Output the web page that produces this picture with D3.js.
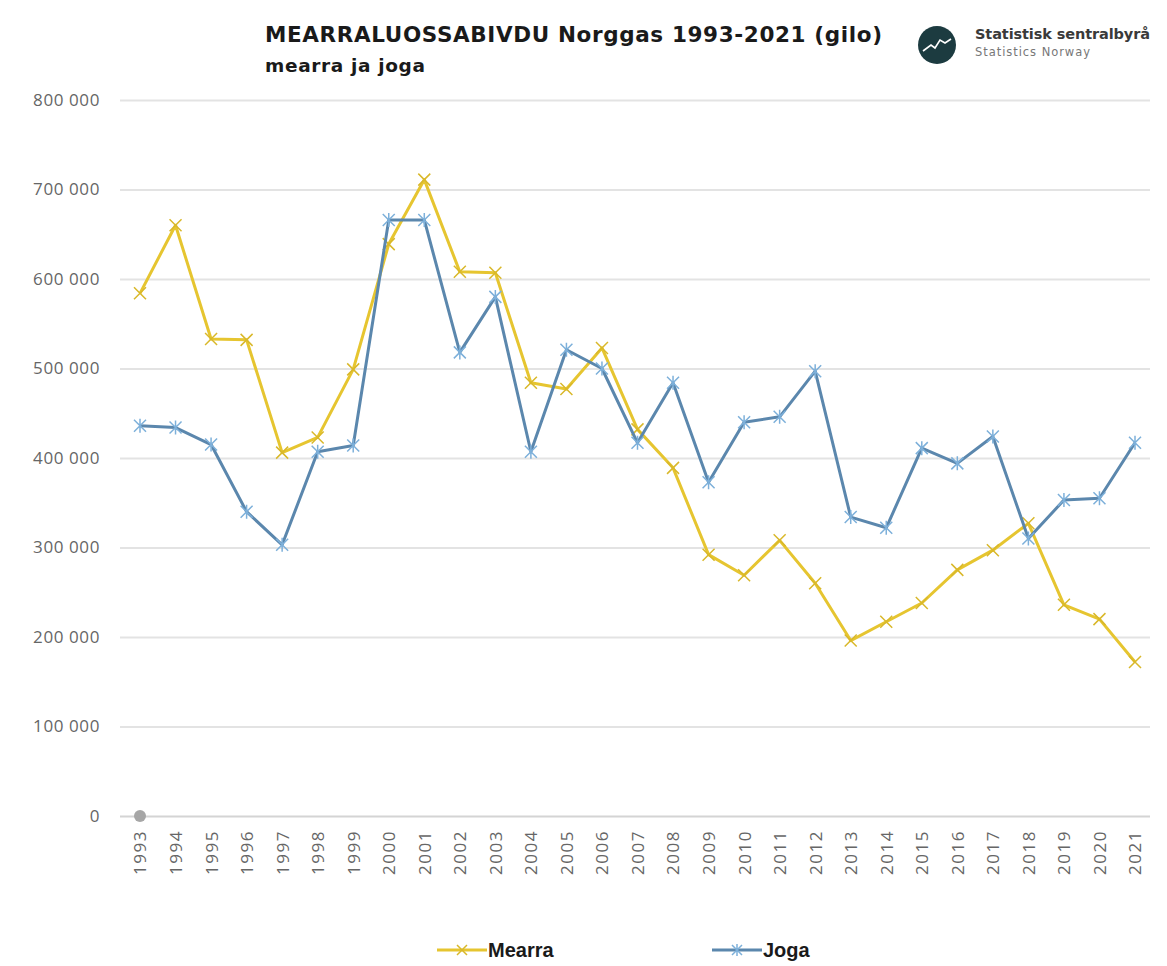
<!DOCTYPE html>
<html>
<head>
<meta charset="utf-8">
<script src="https://cdn.jsdelivr.net/npm/d3@7"></script>
<style>
  body { margin: 0; background: #fff; }
  svg { display: block; }
</style>
</head>
<body>
<script>
// data
const years = ["1993","1994","1995","1996","1997","1998","1999","2000","2001","2002",
  "2003","2004","2005","2006","2007","2008","2009","2010","2011","2012",
  "2013","2014","2015","2016","2017","2018","2019","2020","2021"];
const mearra = [584000, 660000, 533000, 532000, 406000, 423000, 499000, 639000, 711000, 608000,
  607000, 484000, 477000, 523000, 432000, 389000, 292000, 269000, 308000, 260000,
  196000, 217000, 238000, 275000, 297000, 327000, 236000, 220000, 172000];
const joga = [436000, 434000, 415000, 340000, 303000, 407000, 414000, 666000, 666000, 518000,
  580000, 407000, 521000, 500000, 417000, 484000, 373000, 440000, 446000, 497000,
  334000, 322000, 411000, 394000, 424000, 310000, 353000, 355000, 417000];
const yTicks = [0, 100000, 200000, 300000, 400000, 500000, 600000, 700000, 800000];

const W = 1167, H = 966;
const yellow = "#e6c530", blue = "#5b87ad", blueMark = "#7db0da";

const svg = d3.select("body").append("svg")
  .attr("width", W).attr("height", H);

let x = d3.scalePoint().domain(years).range([140, 1135]);
let y = d3.scaleLinear().domain([0, 800000]).range([816, 100]);

const fmt = d3.formatLocale({decimal: ",", thousands: " ", grouping: [3], currency: ["", ""]}).format(",d");

// gridlines + y labels
const yAxis = svg.append("g")
  .attr("transform", "translate(120,0)")
  .call(d3.axisLeft(y).tickValues(yTicks).tickFormat(fmt).tickSize(-1030).tickPadding(20));
yAxis.select(".domain").remove();
yAxis.selectAll(".tick line")
  .attr("stroke", d => d === 0 ? "#d4d4d4" : "#e3e3e3")
  .attr("stroke-width", 2);
yAxis.selectAll(".tick text")
  .attr("fill", "#666")
  .style("font-family", "'Open Sans', sans-serif")
  .style("font-size", "17px")
  .style("letter-spacing", "0.6px");

// x labels, rotated
const xAxis = svg.append("g")
  .attr("transform", "translate(0,816)")
  .call(d3.axisBottom(x).tickSize(0).tickPadding(0));
xAxis.select(".domain").remove();
xAxis.selectAll(".tick text")
  .attr("fill", "#666")
  .style("font-family", "'Open Sans', sans-serif")
  .style("font-size", "17px")
  .style("letter-spacing", "1.5px")
  .attr("text-anchor", "end")
  .attr("transform", "translate(0,14) rotate(-90)")
  .attr("dy", "0.35em")
  .attr("y", 0).attr("x", 0);

// gray dot at origin
svg.append("circle")
  .attr("cx", x("1993")).attr("cy", y(0)).attr("r", 6)
  .attr("fill", "#a6a6a6");

const line = d3.line()
  .x((d, i) => x(years[i]))
  .y(d => y(d));

function xMark(s, star) {
  return `M${-s},${-s}L${s},${s}M${-s},${s}L${s},${-s}` + (star ? `M0,${-s - 1}L0,${s + 1}` : "");
}

function drawSeries(vals, color, markColor, star) {
  svg.append("path")
    .datum(vals)
    .attr("fill", "none")
    .attr("stroke", color)
    .attr("stroke-width", 3)
    .attr("stroke-linejoin", "round")
    .attr("d", line);
  svg.append("g").selectAll("path")
    .data(vals)
    .enter()
    .append("path")
    .attr("transform", (d, i) => `translate(${x(years[i])},${y(d)})`)
    .attr("d", xMark(6, star))
    .attr("stroke", markColor)
    .attr("stroke-width", 1.5)
    .attr("fill", "none");
}

drawSeries(mearra, yellow, "#d9b82a", false);
drawSeries(joga, blue, blueMark, true);

// title
svg.append("text")
  .attr("x", 265).attr("y", 42)
  .style("font-family", "'DejaVu Sans', sans-serif")
  .style("font-weight", 700)
  .style("font-size", "21.5px")
  .attr("fill", "#1a1a1a")
  .attr("textLength", 617)
  .attr("lengthAdjust", "spacing")
  .text("MEARRALUOSSABIVDU Norggas 1993-2021 (gilo)");
svg.append("text")
  .attr("x", 265).attr("y", 72)
  .style("font-family", "'DejaVu Sans', sans-serif")
  .style("font-weight", 700)
  .style("font-size", "18.5px")
  .attr("fill", "#1a1a1a")
  .attr("textLength", 160)
  .attr("lengthAdjust", "spacing")
  .text("mearra ja joga");

// logo
const logo = svg.append("g").attr("transform", "translate(937,45)");
logo.append("circle").attr("r", 19).attr("fill", "#1c3b40");
logo.append("path")
  .attr("d", "M-14,6L-6,0L-2,3L3,-5L8,-2L14,-6")
  .attr("stroke", "#fff").attr("stroke-width", 1.6).attr("fill", "none");
svg.append("text")
  .attr("x", 975).attr("y", 39)
  .style("font-family", "'DejaVu Sans', sans-serif")
  .style("font-weight", 700)
  .style("font-size", "14.5px")
  .attr("fill", "#3a3a3a")
  .attr("textLength", 175)
  .attr("lengthAdjust", "spacing")
  .text("Statistisk sentralbyrå");
svg.append("text")
  .attr("x", 975).attr("y", 56)
  .style("font-family", "'DejaVu Sans', sans-serif")
  .style("font-size", "11.5px")
  .attr("fill", "#777")
  .attr("textLength", 115)
  .attr("lengthAdjust", "spacing")
  .text("Statistics Norway");

// legend
const legend = [
  {name: "Mearra", color: yellow, mark: "#d9b82a", star: false, x: 437},
  {name: "Joga", color: blue, mark: blueMark, star: true, x: 712}
];
const lg = svg.append("g").selectAll("g")
  .data(legend)
  .enter().append("g")
  .attr("transform", d => `translate(${d.x},950)`);
lg.append("line")
  .attr("x1", 0).attr("x2", 50).attr("y1", 0).attr("y2", 0)
  .attr("stroke", d => d.color).attr("stroke-width", 3);
lg.append("path")
  .attr("transform", "translate(25,0)")
  .attr("d", d => xMark(5, d.star))
  .attr("stroke", d => d.mark).attr("stroke-width", 1.5).attr("fill", "none");
lg.append("text")
  .attr("x", 51).attr("y", 7)
  .style("font-family", "'Liberation Sans', Arial, sans-serif")
  .style("font-weight", 700)
  .style("font-size", "20px")
  .attr("fill", "#1a1a1a")
  .text(d => d.name);
</script>
</body>
</html>
